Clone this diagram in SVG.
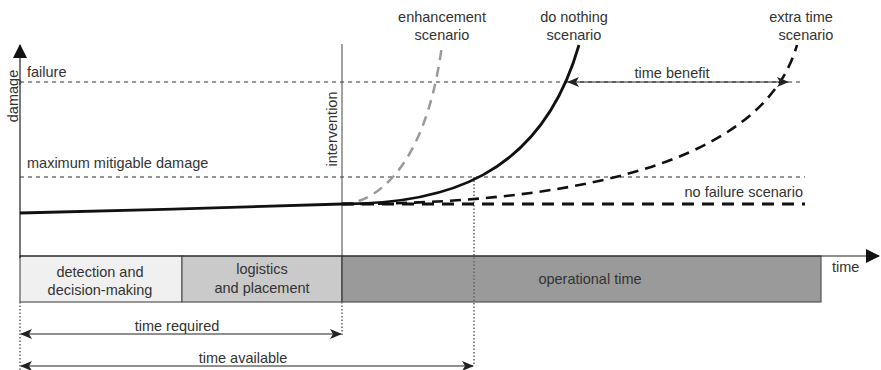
<svg xmlns="http://www.w3.org/2000/svg" width="881" height="370" viewBox="0 0 881 370">
<defs>
<style>
text{font-family:"Liberation Sans",Arial,sans-serif;font-size:14.5px;fill:#333}
.mid{text-anchor:middle}
.thin{stroke:#333;stroke-width:1;stroke-dasharray:4 4;fill:none}
.dot{stroke:#666;stroke-width:1.5;stroke-dasharray:1.5 2;fill:none}
.axis{stroke:#222;stroke-width:1.2;fill:none}
.box{stroke:#555;stroke-width:1.2}
.dim{stroke:#222;stroke-width:1.2;fill:none}
</style>
<marker id="ah" viewBox="0 0 12 10" refX="11" refY="5" markerWidth="12" markerHeight="10" markerUnits="userSpaceOnUse" orient="auto-start-reverse">
<path d="M0,0 L12,5 L0,10 L3,5 Z" fill="#222"/>
</marker>
<marker id="big" viewBox="0 0 14 14" refX="13" refY="7" markerWidth="14" markerHeight="14" markerUnits="userSpaceOnUse" orient="auto">
<path d="M0,0 L14,7 L0,14 Z" fill="#111"/>
</marker>
</defs>
<rect width="881" height="370" fill="#fff"/>

<g id="bars">
<g id="detection">
<rect class="box" x="20" y="256" width="162" height="46" fill="#f0f0f0"/>
<text class="mid" x="100" y="277">detection and</text>
<text class="mid" x="100" y="295">decision-making</text>
</g>
<g id="logistics">
<rect class="box" x="182" y="256" width="160" height="46" fill="#cacaca"/>
<text class="mid" x="262" y="274">logistics</text>
<text class="mid" x="262" y="293">and placement</text>
</g>
<g id="operational">
<rect class="box" x="342" y="256" width="479" height="46" fill="#9a9a9a"/>
<text class="mid" x="590" y="284">operational time</text>
</g>
</g>

<g id="connectors">
<line class="thin" x1="20" y1="82" x2="800" y2="82"/>
<line class="thin" x1="20" y1="177" x2="805" y2="177"/>
<line x1="342" y1="44" x2="342" y2="302" stroke="#444" stroke-width="1"/>
<line class="dot" x1="474" y1="177" x2="474" y2="366"/>
<line class="dot" x1="20" y1="302" x2="20" y2="370"/>
<line class="dot" x1="342" y1="302" x2="342" y2="335"/>
<line class="axis" x1="20" y1="258" x2="20" y2="45" marker-end="url(#big)"/>
<line class="axis" x1="20" y1="256" x2="879" y2="256" marker-end="url(#big)"/>
<path d="M20,213 C120,211 250,207 342,204" stroke="#111" stroke-width="2.8" fill="none"/>
<path d="M342,204 C370,204 425,175 442,45" stroke="#999" stroke-width="2.5" stroke-dasharray="10 7" fill="none"/>
<line x1="342" y1="204" x2="805" y2="204" stroke="#111" stroke-width="3" stroke-dasharray="12 8"/>
<path d="M342,204 C540,204 760,175 797,45" stroke="#111" stroke-width="2.6" stroke-dasharray="11 7" fill="none"/>
<path d="M342,204 C440,204 540,180 579,45" stroke="#111" stroke-width="2.8" fill="none"/>
<line class="dim" x1="568" y1="82" x2="788" y2="82" marker-start="url(#ah)" marker-end="url(#ah)"/>
<line class="dim" x1="21" y1="334" x2="341" y2="334" marker-start="url(#ah)" marker-end="url(#ah)"/>
<line class="dim" x1="21" y1="366" x2="473" y2="366" marker-start="url(#ah)" marker-end="url(#ah)"/>
</g>

<g id="labels">
<text transform="translate(18,96) rotate(-90)" class="mid">damage</text>
<text x="27" y="77">failure</text>
<text x="27" y="168">maximum mitigable damage</text>
<text transform="translate(337,129) rotate(-90)" class="mid">intervention</text>
<text class="mid" x="442" y="22">enhancement</text>
<text class="mid" x="442" y="40">scenario</text>
<text class="mid" x="574" y="22">do nothing</text>
<text class="mid" x="574" y="40">scenario</text>
<text class="mid" x="801" y="22">extra time</text>
<text class="mid" x="806" y="40">scenario</text>
<text class="mid" x="672" y="78">time benefit</text>
<text x="803" y="197" style="text-anchor:end">no failure scenario</text>
<text x="832" y="272">time</text>
<text class="mid" x="177" y="331">time required</text>
<text class="mid" x="243" y="363">time available</text>
</g>
</svg>
